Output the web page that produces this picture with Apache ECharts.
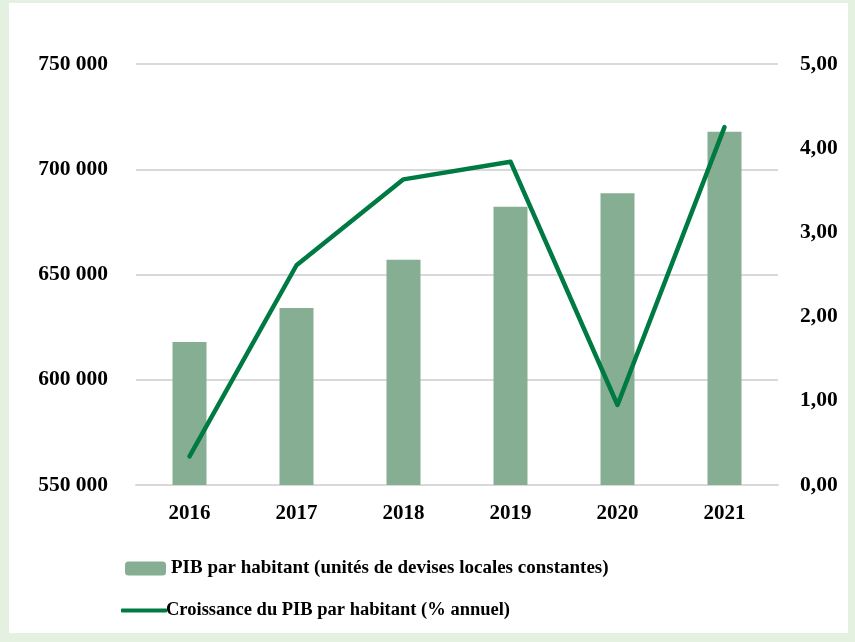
<!DOCTYPE html>
<html>
<head>
<meta charset="utf-8">
<script src="https://cdn.jsdelivr.net/npm/echarts@6/dist/echarts.min.js"></script>
<style>
  html, body { margin: 0; padding: 0; background: #e4f1e1; }
  #frame { position: absolute; left: 9px; top: 3px; width: 839px; height: 630px; background: #fff; }
  #main { position: absolute; left: -9px; top: -3px; width: 855px; height: 642px; }
</style>
</head>
<body>
<div id="frame"><div id="main"></div></div>
<script>
// années
var years = ["2016", "2017", "2018", "2019", "2020", "2021"];
// PIB par habitant (unités de devises locales constantes)
var pibValues = [617950, 634100, 657000, 682200, 688600, 717800];
// Croissance du PIB par habitant (% annuel)
var growthValues = [0.34, 2.61, 3.63, 3.84, 0.95, 4.25];

var barName = "PIB par habitant (unités de devises locales constantes)";
var lineName = "Croissance du PIB par habitant (% annuel)";

var font = "'Liberation Serif', 'DejaVu Serif', serif";

var chart = echarts.init(document.getElementById("main"));
chart.setOption({
  animation: false,
  textStyle: { fontFamily: font },
  grid: { left: 136, right: 77, top: 64, bottom: 157 },
  legend: [
    {
      data: [barName],
      left: 120,
      top: 554,
      itemWidth: 41,
      itemHeight: 14,
      itemGap: 0,
      textStyle: { fontFamily: font, fontWeight: "bold", fontSize: 19, color: "#000", padding: [0, 0, 0, 0] }
    },
    {
      data: [{ name: lineName, icon: "roundRect" }],
      left: 116,
      top: 596,
      itemWidth: 46,
      itemHeight: 4,
      itemGap: 0,
      textStyle: { fontFamily: font, fontWeight: "bold", fontSize: 18.5, color: "#000", padding: [0, 0, 0, -6] }
    }
  ],
  xAxis: {
    type: "category",
    data: years,
    axisLine: { show: true, lineStyle: { color: "#d9d9d9", width: 2 } },
    axisTick: { show: false },
    axisLabel: { fontFamily: font, fontWeight: "bold", fontSize: 21, color: "#000", margin: 18 }
  },
  yAxis: [
    {
      type: "value",
      min: 550000,
      max: 750000,
      interval: 50000,
      axisLine: { show: false },
      axisTick: { show: false },
      splitLine: { lineStyle: { color: "#d9d9d9", width: 2 } },
      axisLabel: {
        fontFamily: font, fontWeight: "bold", fontSize: 21.5, color: "#000", margin: 28,
        formatter: function (v) {
          return String(v).replace(/\B(?=(\d{3})+(?!\d))/g, " ");
        }
      }
    },
    {
      type: "value",
      min: 0,
      max: 5,
      interval: 1,
      axisLine: { show: false },
      axisTick: { show: false },
      splitLine: { show: false },
      axisLabel: {
        fontFamily: font, fontWeight: "bold", fontSize: 21.5, color: "#000", margin: 22,
        formatter: function (v) {
          return v.toFixed(2).replace(".", ",");
        }
      }
    }
  ],
  series: [
    {
      name: barName,
      type: "bar",
      yAxisIndex: 0,
      data: pibValues,
      barWidth: 34,
      itemStyle: { color: "#86ae93" }
    },
    {
      name: lineName,
      type: "line",
      yAxisIndex: 1,
      data: growthValues,
      symbol: "none",
      lineStyle: { color: "#007a43", width: 4.5, cap: "round", join: "round" },
      itemStyle: { color: "#007a43" }
    }
  ]
});
</script>
</body>
</html>
